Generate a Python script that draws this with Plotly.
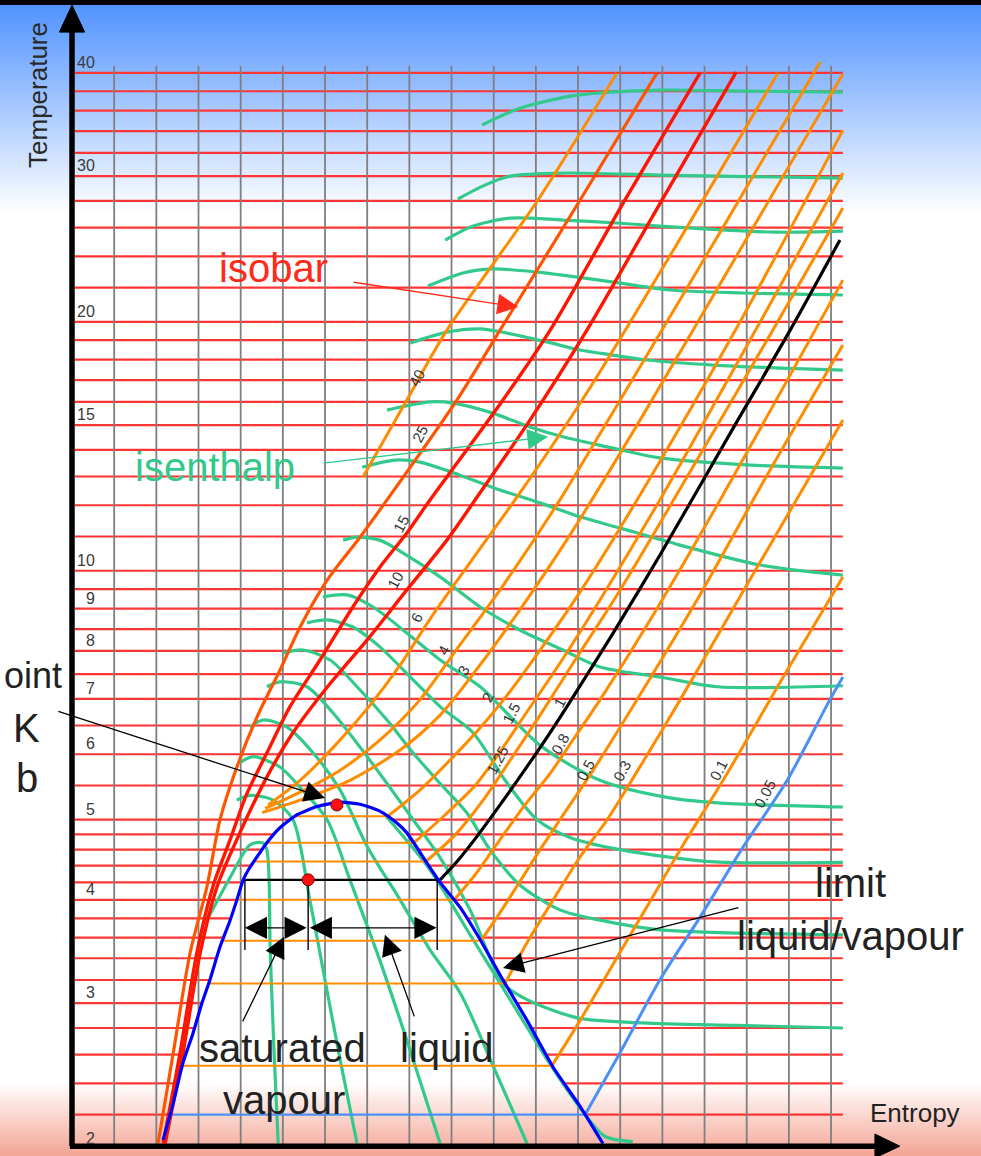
import numpy as np
import plotly.graph_objects as go

# ---------------- data (entropy s in J/(g K), temperature T in K) ----------------
isotherm_T = [2.2, 2.4, 2.6, 2.8, 3.0, 3.2, 3.4, 3.6, 3.8, 4.0, 4.2, 4.4, 4.6, 4.8, 5.0,
              5.5, 6, 6.5, 7, 7.5, 8, 8.5, 9, 9.5, 10, 11, 12, 13, 14, 15, 16, 17, 18, 19, 20,
              22, 24, 26, 28, 30, 32, 34, 36, 38, 40]
tick_T = [2, 3, 4, 5, 6, 7, 8, 9, 10, 15, 20, 30, 40]
grid_s = list(range(1, 19))
s_lo, s_hi = 0.07, 18.28
T_axis = 2.015

# saturation dome
dome_left_s = [2.16, 2.40, 2.63, 2.87, 3.08, 3.27, 3.51, 3.75, 3.91, 4.06, 4.22, 4.39, 4.62, 4.93, 5.34, 5.83, 6.36]
dome_left_T = [2.05, 2.27, 2.54, 2.76, 3.00, 3.20, 3.51, 3.78, 4.00, 4.23, 4.38, 4.51, 4.69, 4.89, 5.07, 5.19, 5.25]
dome_right_s = [6.83, 7.30, 7.71, 7.94, 8.42, 8.73, 9.20, 9.68, 10.22, 10.79, 11.41, 12.05, 12.59]
dome_right_T = [5.22, 5.12, 4.95, 4.82, 4.43, 4.20, 3.92, 3.58, 3.20, 2.86, 2.51, 2.25, 2.03]

# isobars (bar)
bar40_s = [6.90, 7.94, 8.89, 11.05, 12.92]
bar40_T = [12.98, 16.09, 19.54, 28.07, 39.97]
bar25_s = [2.04, 2.40, 2.80, 3.20, 3.51, 3.91, 4.39, 4.93, 5.41, 6.05, 6.83, 7.47, 9.13, 10.15, 12.05, 13.87]
bar25_T = [2.03, 2.61, 3.45, 4.15, 5.00, 5.79, 6.66, 7.58, 8.55, 9.74, 10.98, 12.18, 16.09, 19.54, 28.07, 39.97]
bar15_s = [2.16, 2.56, 2.96, 3.34, 3.75, 4.15, 4.62, 5.17, 5.88, 6.66, 7.30, 7.94, 8.49, 10.22, 11.34, 13.11, 14.89]
bar15_T = [2.03, 2.61, 3.45, 4.15, 4.73, 5.38, 6.02, 6.85, 7.80, 9.04, 10.10, 11.11, 12.18, 16.09, 19.54, 28.07, 39.97]
bar10_s = [2.21, 2.63, 3.04, 3.44, 3.98, 4.62, 5.24, 6.05, 7.00, 7.94, 8.89, 9.51, 10.86, 12.21, 13.99, 15.75]
bar10_T = [2.03, 2.61, 3.45, 4.15, 4.82, 5.63, 6.37, 7.23, 8.25, 9.48, 10.89, 12.08, 15.21, 19.54, 28.07, 40.08]
bar6_s = [4.65, 5.41, 6.24, 7.07, 7.78, 8.51, 9.48, 10.75, 12.25, 14.50, 16.74]
bar6_T = [5.21, 5.58, 6.15, 6.88, 7.69, 8.77, 10.30, 12.69, 16.54, 25.60, 39.97]
bar4_s = [4.58, 5.41, 6.36, 7.30, 8.25, 9.11, 10.15, 11.57, 13.00, 15.37, 17.74]
bar4_T = [5.16, 5.40, 5.74, 6.24, 6.98, 8.02, 9.48, 12.18, 16.09, 25.67, 41.2]
bar3_s = [4.51, 5.41, 6.59, 7.78, 8.73, 9.58, 10.62, 11.81, 13.47, 15.84, 18.28]
bar3_T = [5.10, 5.28, 5.58, 6.07, 6.69, 7.58, 8.97, 11.05, 15.21, 24.42, 39.86]
bar2_s = [7.49, 8.25, 8.96, 9.68, 10.27, 11.10, 12.05, 13.47, 15.84, 18.28]
bar2_T = [5.05, 5.43, 5.90, 6.46, 7.02, 8.02, 9.43, 12.35, 19.99, 34.10]
bar1_5_s = [8.11, 8.85, 9.56, 10.15, 10.77, 11.57, 12.52, 13.94, 16.08, 18.28]
bar1_5_T = [4.69, 5.07, 5.50, 6.04, 6.73, 7.73, 9.22, 12.18, 19.01, 30.26]
bar1_25_s = [8.39, 9.08, 9.75, 10.39, 11.10, 11.93, 13.00, 14.89, 16.55, 18.28]
bar1_25_T = [4.45, 4.79, 5.28, 5.90, 6.69, 7.80, 9.48, 13.80, 19.27, 27.45]
bar1_s = [8.73, 9.13, 9.60, 10.15, 10.67, 11.22, 11.76, 12.28, 12.81, 13.94, 15.72, 17.03, 18.21]
bar1_T = [4.23, 4.45, 4.77, 5.21, 5.68, 6.24, 6.88, 7.58, 8.37, 10.44, 15.00, 19.54, 25.11]
bar0_8_s = [9.06, 9.56, 10.15, 10.74, 11.34, 11.83, 12.52, 13.71, 15.37, 18.28]
bar0_8_T = [4.00, 4.29, 4.73, 5.21, 5.69, 6.19, 6.98, 8.72, 12.18, 22.46]
bar0_5_s = [9.70, 10.15, 10.62, 11.10, 11.57, 12.36, 13.47, 14.89, 16.55, 18.28]
bar0_5_T = [3.57, 3.86, 4.21, 4.60, 5.00, 5.74, 7.08, 9.35, 13.23, 18.75]
bar0_3_s = [10.27, 10.79, 11.41, 12.05, 12.69, 13.42, 14.42, 15.84, 18.28]
bar0_3_T = [3.17, 3.55, 4.00, 4.51, 5.00, 5.74, 6.98, 9.30, 15.21]
bar0_1_s = [11.38, 12.05, 12.81, 13.59, 14.49, 15.44, 16.96, 18.28]
bar0_1_T = [2.52, 2.86, 3.33, 3.89, 4.66, 5.58, 7.58, 9.83]
bar0_05_s = [12.17, 12.99, 13.94, 14.89, 15.91, 16.96, 17.97, 18.28]
bar0_05_T = [2.20, 2.61, 3.20, 3.81, 4.63, 5.58, 6.98, 7.44]

# two-phase (horizontal) parts of the sub-critical isobars
sat_p = ["2", "1.5", "1.25", "1", "0.8", "0.5", "0.3", "0.1", "0.05"]
sat_T = [5.05, 4.69, 4.45, 4.23, 4.00, 3.57, 3.17, 2.52, 2.20]
sat_s_left = [5.30, 4.62, 4.30, 4.06, 3.91, 3.56, 3.24, 2.63, 2.32]
sat_s_right = [7.49, 8.11, 8.39, 8.73, 9.06, 9.70, 10.27, 11.38, 12.17]

# isobar labels
label_text = ["40", "25", "15", "10", "6", "4", "3", "2", "1.5", "1.25", "1", "0.8", "0.5", "0.3", "0.1", "0.05"]
label_s = [8.18, 8.25, 7.80, 7.66, 8.18, 8.80, 9.27, 9.86, 10.43, 10.08, 11.57, 11.57, 12.17, 13.04, 15.32, 16.43]
label_T = [17.14, 14.67, 11.42, 9.74, 8.77, 8.02, 7.58, 7.02, 6.73, 5.90, 6.92, 6.19, 5.74, 5.74, 5.74, 5.38]

# isenthalps
h1_s = [9.72, 10.62, 11.98, 13.94, 16.08, 18.28]
h1_T = [34.58, 36.24, 37.59, 38.12, 38.01, 37.91]
h2_s = [9.15, 9.79, 10.39, 11.64, 13.94, 18.28]
h2_T = [28.15, 29.26, 30.00, 30.26, 30.09, 29.84]
h3_s = [8.85, 9.44, 10.39, 11.64, 12.92, 13.94, 16.67, 18.28]
h3_T = [25.11, 26.03, 26.69, 26.55, 26.33, 26.11, 25.67, 25.74]
h4_s = [8.44, 9.27, 9.98, 11.03, 11.98, 13.00, 14.18, 15.91, 18.28]
h4_T = [22.09, 22.91, 23.17, 22.97, 22.65, 22.27, 21.85, 21.67, 21.55]
h5_s = [8.02, 8.89, 9.68, 10.32, 11.26, 12.05, 12.83, 13.64, 15.20, 16.79, 18.28]
h5_T = [18.85, 19.43, 19.61, 19.38, 18.91, 18.49, 18.23, 17.98, 17.73, 17.58, 17.48]
h6_s = [7.47, 8.49, 9.04, 9.98, 10.86, 11.64, 12.69, 13.94, 16.08, 18.28]
h6_T = [15.64, 16.00, 15.95, 15.51, 14.92, 14.52, 14.12, 13.69, 13.42, 13.31]
h7_s = [6.88, 7.66, 8.25, 9.20, 10.15, 11.10, 12.05, 13.00, 14.42, 16.32, 18.28]
h7_T = [13.34, 13.61, 13.53, 13.05, 12.52, 12.08, 11.62, 11.26, 10.74, 10.16, 9.88]
h8_s = [6.43, 6.76, 7.30, 7.94, 8.73, 9.68, 10.62, 11.64, 12.52, 13.94, 15.30, 18.28]
h8_T = [10.89, 10.98, 10.89, 10.44, 9.83, 9.04, 8.48, 8.02, 7.65, 7.44, 7.24, 7.26]
h9_s = [5.95, 6.52, 7.14, 7.94, 8.73, 9.68, 11.10, 12.52, 14.11, 15.30, 18.28]
h9_T = [9.30, 9.35, 9.04, 8.41, 7.80, 7.24, 6.15, 5.58, 5.32, 5.24, 5.18]
h10_s = [5.57, 6.05, 6.66, 7.30, 8.09, 8.73, 9.51, 10.27, 11.03, 11.81, 13.00, 15.13, 18.28]
h10_T = [8.65, 8.72, 8.55, 8.09, 7.38, 6.85, 6.37, 5.58, 5.00, 4.76, 4.60, 4.45, 4.44]
h11_s = [5.00, 5.48, 6.12, 6.76, 7.47, 8.09, 8.73, 9.37, 9.91, 10.62, 11.57, 12.52, 13.94, 18.28]
h11_T = [7.95, 8.02, 7.80, 7.24, 6.60, 6.02, 5.53, 5.09, 4.60, 4.17, 3.89, 3.78, 3.68, 3.63]
h12_s = [4.62, 4.93, 5.57, 6.19, 6.83, 7.47, 8.09, 8.73, 9.44, 10.22, 10.79, 11.98, 13.54, 15.77, 18.28]
h12_T = [7.24, 7.34, 7.24, 6.73, 6.12, 5.53, 5.00, 4.50, 3.89, 3.17, 3.03, 2.88, 2.84, 2.82, 2.80]
h13_s = [4.22, 4.53, 5.10, 5.72, 6.36, 7.00, 7.78, 8.49, 9.20, 10.03, 10.79]
h13_T = [6.47, 6.60, 6.47, 6.02, 5.43, 4.64, 4.00, 3.48, 3.09, 2.49, 2.03]
h14_s = [3.98, 4.29, 4.93, 5.41, 6.05, 6.59, 7.30, 8.02, 8.73]
h14_T = [5.86, 5.96, 5.79, 5.47, 5.00, 4.23, 3.38, 2.63, 2.03]
h15_s = [3.91, 4.22, 4.77, 5.24, 5.64, 6.00, 6.36, 6.76]
h15_T = [5.28, 5.35, 5.28, 5.00, 4.00, 3.20, 2.56, 2.03]
h16_s = [3.20, 3.72, 4.22, 4.51, 4.62, 4.70, 4.79, 4.89]
h16_T = [3.78, 4.23, 4.66, 4.69, 4.60, 3.48, 2.63, 2.03]
h17_s = [7.40, 8.49, 9.44, 10.39, 11.34, 12.17, 12.64, 13.30]
h17_T = [5.08, 4.35, 3.63, 3.03, 2.53, 2.20, 2.07, 2.04]

# marked states
crit_s, crit_T = 6.28, 5.21
state_s, state_T = 5.60, 4.23
lever_s = [4.10, 5.60, 8.66]
lever_T_top, lever_T_bot, lever_T_arrow = 4.23, 3.48, 3.70

# ---------------- styling ----------------
FONT = "Liberation Sans, Arial, Helvetica, sans-serif"
RED_ISO = "#ff3535"
GRID = "#7f7f7f"
ORANGE = "#ff8c00"
ORANGE_RED = "#ff5500"
RED = "#ff1500"
GREEN = "#33c98b"
BLUE = "#0000ff"
LIGHT_BLUE = "#4a90f5"

W, H = 981, 1156
fig = go.Figure()


def add_line(xs, ys, color, width, shape="linear", smoothing=0.9):
    fig.add_trace(go.Scatter(x=xs, y=ys, mode="lines",
                             line=dict(color=color, width=width, shape=shape, smoothing=smoothing),
                             hoverinfo="skip", showlegend=False))


# isotherms (interrupted inside the two-phase dome)
dl_T, dl_s = np.array(dome_left_T), np.array(dome_left_s)
dr_T, dr_s = np.array(dome_right_T)[::-1], np.array(dome_right_s)[::-1]
xs, ys = [], []
for T in isotherm_T:
    if T < 5.2:
        a = float(np.interp(T, dl_T, dl_s))
        b = float(np.interp(T, dr_T, dr_s))
        xs += [s_lo, a, None, b, s_hi, None]
        ys += [T, T, None, T, T, None]
    else:
        xs += [s_lo, s_hi, None]
        ys += [T, T, None]
add_line(xs, ys, RED_ISO, 2.2)

# vertical entropy grid
xs, ys = [], []
for s in grid_s:
    xs += [s, s, None]
    ys += [T_axis, 40.8, None]
add_line(xs, ys, GRID, 1.8)

# isenthalps
for hs, hT in [(h1_s, h1_T), (h2_s, h2_T), (h3_s, h3_T), (h4_s, h4_T), (h5_s, h5_T),
               (h6_s, h6_T), (h7_s, h7_T), (h8_s, h8_T), (h9_s, h9_T), (h10_s, h10_T),
               (h11_s, h11_T), (h12_s, h12_T), (h13_s, h13_T), (h14_s, h14_T),
               (h15_s, h15_T), (h16_s, h16_T), (h17_s, h17_T)]:
    add_line(hs, hT, GREEN, 3.2, "spline", 0.8)

# two-phase isobar segments
for p, T, a, b in zip(sat_p, sat_T, sat_s_left, sat_s_right):
    if p == "1":
        col, w = "black", 2.2
    elif p == "0.05":
        col, w = LIGHT_BLUE, 2.2
    else:
        col, w = ORANGE, 2.0
    add_line([a, b], [T, T], col, w)

# isobars
isobar_curves = [
    (bar0_05_s, bar0_05_T, LIGHT_BLUE, 3.0), (bar0_1_s, bar0_1_T, ORANGE, 3.0),
    (bar0_3_s, bar0_3_T, ORANGE, 3.0), (bar0_5_s, bar0_5_T, ORANGE, 3.0),
    (bar0_8_s, bar0_8_T, ORANGE, 3.0), (bar1_25_s, bar1_25_T, ORANGE, 3.0),
    (bar1_5_s, bar1_5_T, ORANGE, 3.0), (bar2_s, bar2_T, ORANGE, 3.0),
    (bar3_s, bar3_T, ORANGE, 3.0), (bar4_s, bar4_T, ORANGE, 3.0),
    (bar6_s, bar6_T, ORANGE, 3.0), (bar40_s, bar40_T, ORANGE, 3.0),
    (bar10_s, bar10_T, RED, 3.4), (bar15_s, bar15_T, RED, 3.4),
    (bar25_s, bar25_T, ORANGE_RED, 3.2), (bar1_s, bar1_T, "black", 3.2),
]
for cs, cT, col, w in isobar_curves:
    add_line(cs, cT, col, w, "spline", 0.8)

# saturation dome
add_line(dome_left_s + dome_right_s, dome_left_T + dome_right_T, BLUE, 3.2, "spline", 0.6)

# lever-rule construction
xs, ys = [], []
for s in lever_s:
    xs += [s, s, None]
    ys += [lever_T_top, lever_T_bot, None]
add_line(xs, ys, "black", 1.4)

# axes (black arrows)
add_line([0, 0], [T_axis, 44.8], "black", 5.5)
add_line([-0.05, 19.04], [T_axis, T_axis], "black", 5.5)
fig.add_trace(go.Scatter(x=[-0.30, 0.30, 0, -0.30], y=[44.8, 44.8, 48.3, 44.8], mode="lines",
                         fill="toself", fillcolor="black", line=dict(color="black", width=1),
                         hoverinfo="skip", showlegend=False))
fig.add_trace(go.Scatter(x=[19.04, 19.04, 19.63, 19.04], y=[2.084, 1.950, T_axis, 2.084], mode="lines",
                         fill="toself", fillcolor="black", line=dict(color="black", width=1),
                         hoverinfo="skip", showlegend=False))

# marked states
fig.add_trace(go.Scatter(x=[state_s, crit_s], y=[state_T, crit_T], mode="markers",
                         marker=dict(size=12, color="#ff1010", line=dict(color="#7a0000", width=1)),
                         hoverinfo="skip", showlegend=False))

# ---------------- annotations ----------------
ann = []


def text(s, T, t, size, color="#222222", angle=0, xanchor="center", yanchor="middle"):
    ann.append(dict(x=s, y=float(np.log10(T)), xref="x", yref="y", text=t, showarrow=False,
                    font=dict(family=FONT, size=size, color=color), textangle=angle,
                    xanchor=xanchor, yanchor=yanchor))


def arrow(s_head, T_head, s_tail, T_tail, color="black", width=1.3, size=3.2, side="end"):
    ann.append(dict(x=s_head, y=float(np.log10(T_head)), xref="x", yref="y",
                    ax=s_tail, ay=float(np.log10(T_tail)), axref="x", ayref="y",
                    text="", showarrow=True, arrowhead=2, arrowsize=size, arrowwidth=width,
                    arrowcolor=color, arrowside=side, standoff=0, startstandoff=0))


for T in tick_T:
    text(0.59, T, str(T), 16, "#3a3a3a", xanchor="right", yanchor="bottom")

for t, s, T in zip(label_text, label_s, label_T):
    text(s, T, t, 15, "#333333", angle=-62)

text(-0.81, 37.59, "Temperature", 26, "#2a2a2a", angle=-90)
text(19.99, 2.21, "Entropy", 26, "#222222")
text(4.77, 23.23, "isobar", 40, "#ff2a1a")
text(3.39, 13.34, "isenthalp", 40, GREEN)
text(18.47, 4.19, "limit", 40)
text(18.47, 3.62, "liquid/vapour", 40)
text(5.00, 2.65, "saturated", 40)
text(8.87, 2.65, "liquid", 40)
text(5.03, 2.29, "vapour", 40)
text(-1.67, 7.48, "oint", 36, xanchor="left")
text(-1.07, 6.46, "K", 40)
text(-1.07, 5.61, "b", 40)

arrow(10.58, 20.84, 6.64, 22.34, "#ff2a1a")
arrow(11.29, 14.52, 5.93, 13.49, GREEN)
arrow(6.00, 5.31, -0.36, 6.77, "black")
arrow(10.22, 3.31, 15.84, 3.92, "black")
arrow(5.03, 3.61, 4.03, 2.84, "black")
arrow(7.42, 3.63, 8.13, 2.88, "black")
arrow(4.10, lever_T_arrow, 5.60, lever_T_arrow, "black", 1.3, 3.4, "end+start")
arrow(5.64, lever_T_arrow, 8.68, lever_T_arrow, "black", 1.3, 3.4, "end+start")

# ---------------- background gradient ----------------
shapes = []


def band(px0, px1, rgb):
    shapes.append(dict(type="rect", xref="paper", yref="paper", x0=0, x1=1,
                       y0=1 - px1 / H, y1=1 - px0 / H, layer="below",
                       fillcolor="rgb(%d,%d,%d)" % rgb, line=dict(width=0)))


band(0, 5, (0, 0, 0))
top_c, n = (82, 148, 255), 70
for i in range(n):
    f = i / (n - 1)
    c = tuple(int(round(top_c[k] + (255 - top_c[k]) * f)) for k in range(3))
    band(5 + i * 3, 5 + (i + 1) * 3 + 0.5, c)
bot_c, m = (244, 166, 150), 24
for i in range(m):
    f = (i + 1) / m
    c = tuple(int(round(255 + (bot_c[k] - 255) * f)) for k in range(3))
    band(1084 + i * 3, 1084 + (i + 1) * 3 + 0.5, c)

# ---------------- layout ----------------
x0 = -72 / 42.17
x1 = (W - 72) / 42.17
fig.update_layout(
    width=W, height=H, autosize=False,
    margin=dict(l=0, r=0, t=0, b=0, pad=0),
    paper_bgcolor="white", plot_bgcolor="rgba(0,0,0,0)",
    showlegend=False,
    font=dict(family=FONT),
    xaxis=dict(range=[x0, x1], visible=False, showgrid=False, zeroline=False, fixedrange=True),
    yaxis=dict(type="log", range=[float(np.log10(1.9605)), float(np.log10(48.99))],
               visible=False, showgrid=False, zeroline=False, fixedrange=True),
    annotations=ann, shapes=shapes,
)

fig.write_html("out.html", config={"displayModeBar": False},
               post_script="document.body.style.margin='0px';document.body.style.overflow='hidden';")
